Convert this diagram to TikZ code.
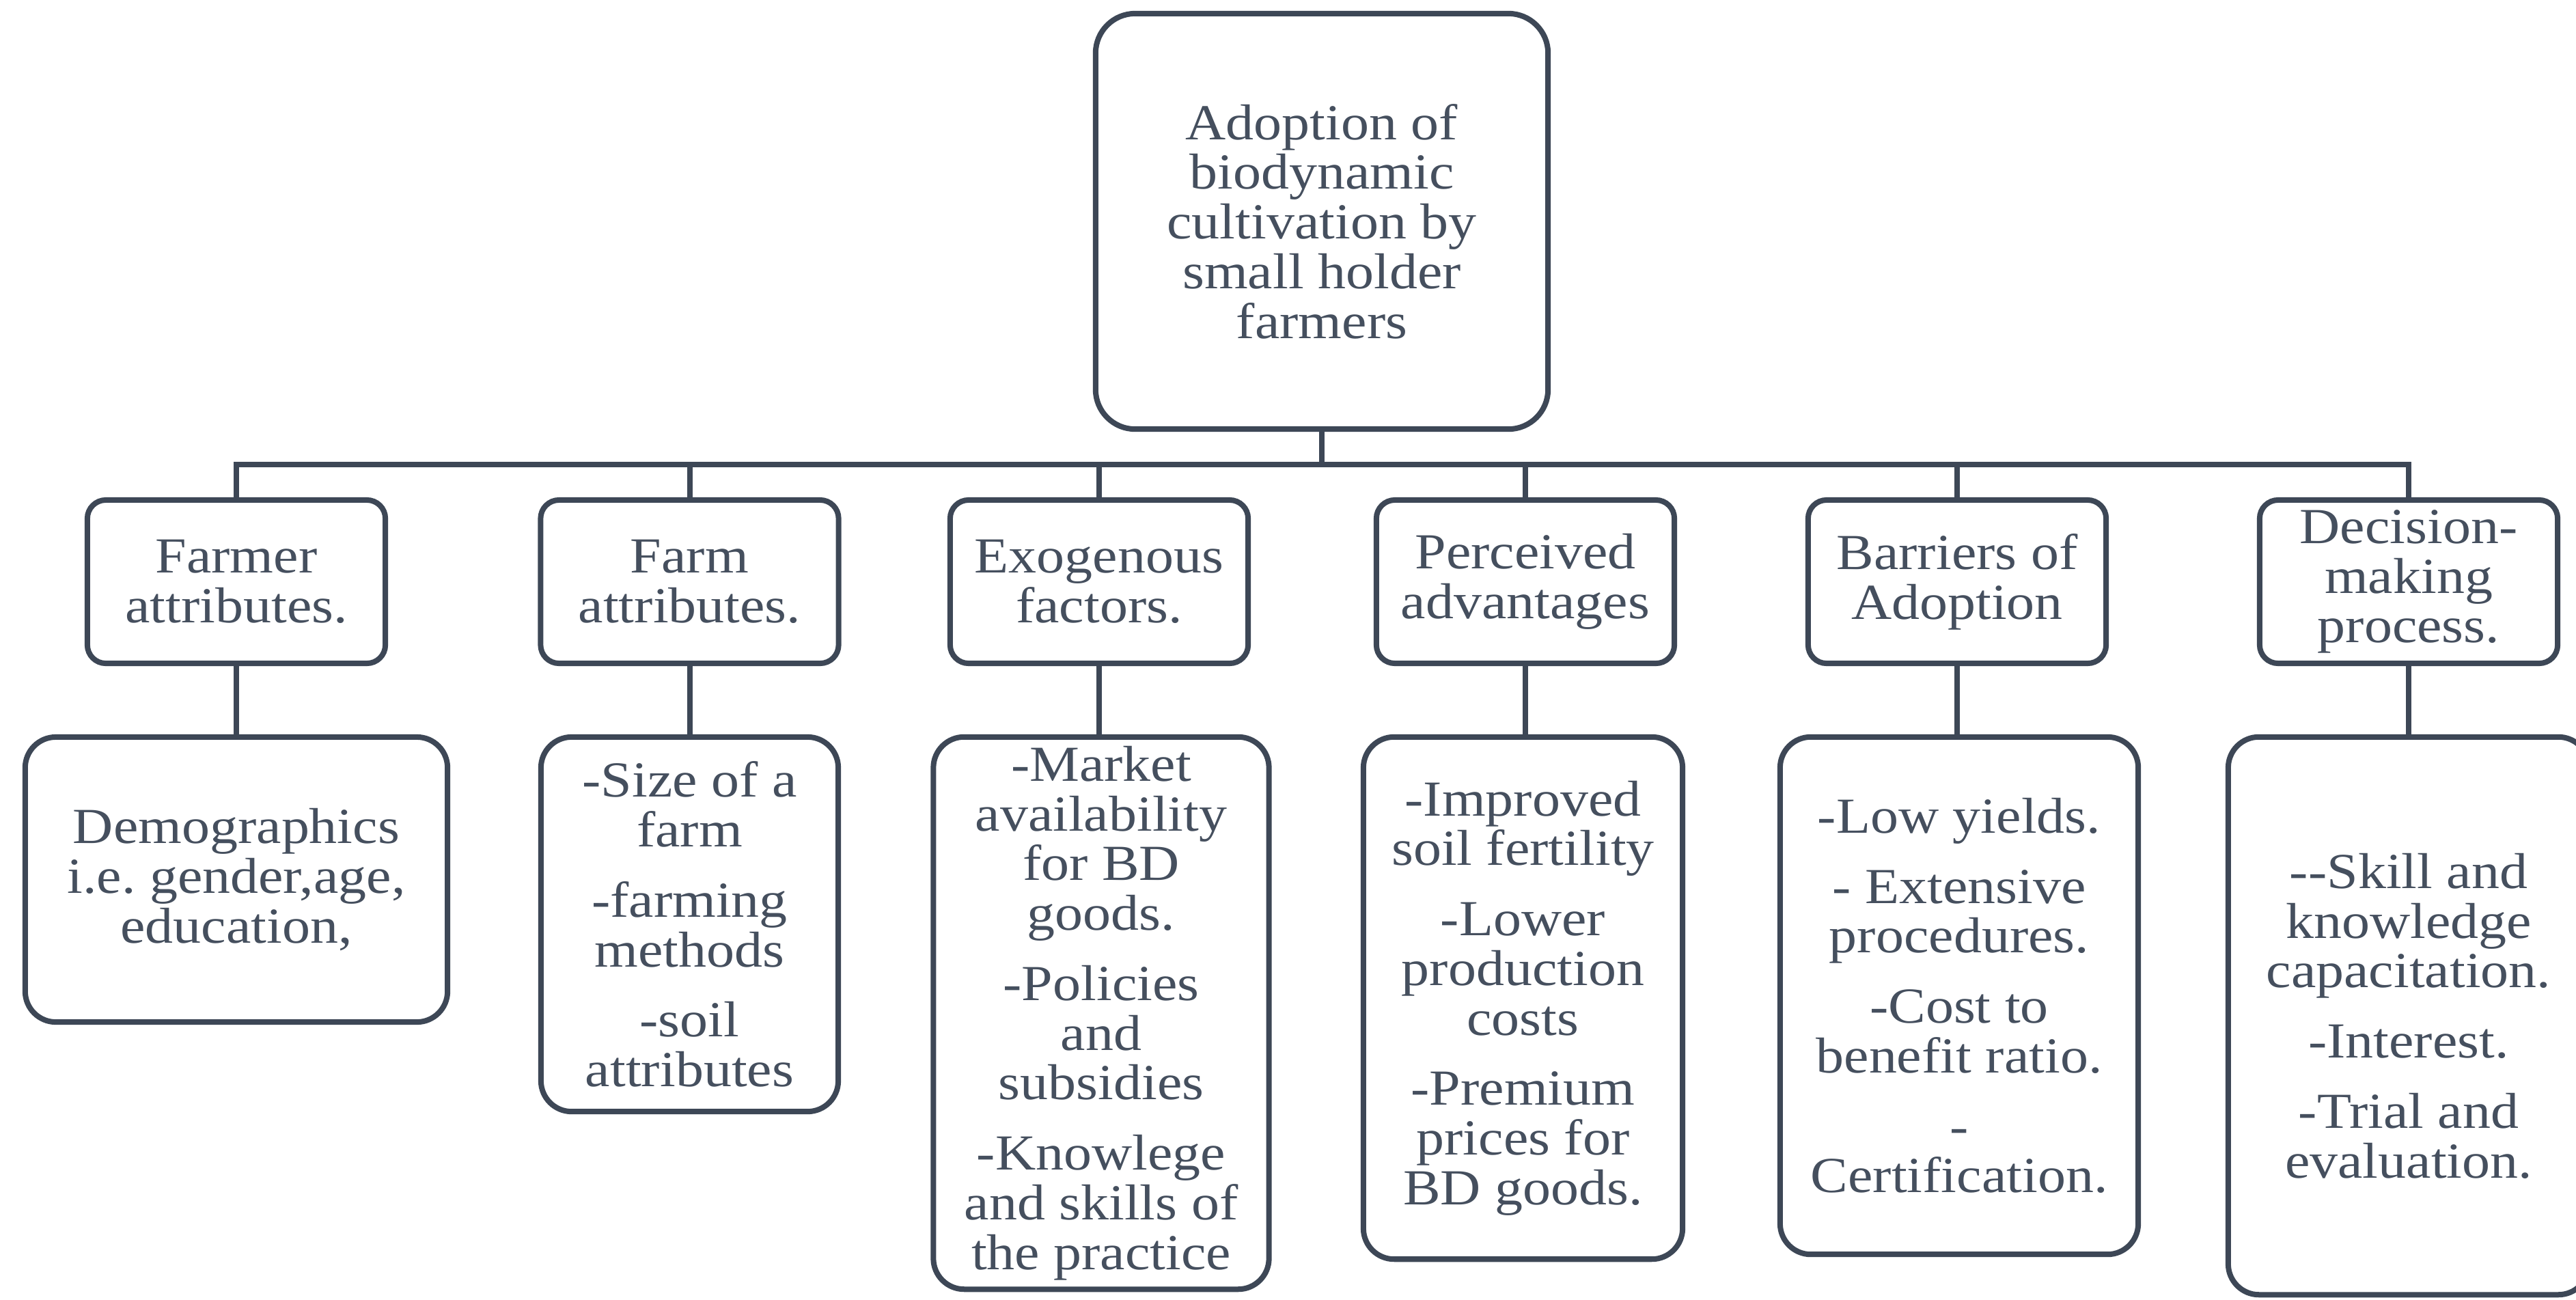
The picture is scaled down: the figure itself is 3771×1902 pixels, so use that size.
\documentclass[tikz,border=0pt]{standalone}
\usepackage{fontspec}
\setmainfont{Liberation Serif}[FakeStretch=1.11]
\definecolor{lineC}{HTML}{3D4756}
\definecolor{textC}{HTML}{454F5E}
\newcommand\itemgap{\\[8.5pt]}
\begin{document}
\begin{tikzpicture}[x=0.01cm,y=0.01cm,
  box/.style={draw=lineC,line width=0.08cm,fill=white,text=textC,align=center,inner sep=0pt,
    font=\fontsize{21pt}{20.7pt}\selectfont},
  rootbox/.style={box,rounded corners=0.58cm,minimum width=6.62cm,minimum height=6.08cm},
  attrbox/.style={box,rounded corners=0.27cm,minimum width=4.36cm,minimum height=2.39cm},
  subbox/.style={box,rounded corners=0.45cm},
  conn/.style={draw=lineC,line width=0.08cm,line join=miter}]
\useasboundingbox (0,0) rectangle (3771,-1902);
\clip (0,0) rectangle (3771,-1902);
\fill[white] (0,0) rectangle (3771,-1902);

\node[rootbox] (root) at (1935,-324) {Adoption of\\biodynamic\\cultivation by\\small holder\\farmers};

\node[attrbox] (fa) at (346,-851.5) {Farmer\\attributes.};
\node[attrbox] (fm) at (1009.5,-851.5) {Farm\\attributes.};
\node[attrbox] (ex) at (1609,-851.5) {Exogenous\\factors.};
\node[attrbox] (pa) at (2233,-851.5) {Perceived\\advantages};
\node[attrbox] (ba) at (2865,-851.5) {Barriers of\\Adoption};
\node[attrbox] (dm) at (3526,-851.5) {Decision-\\making\\process.};

\node[subbox,minimum width=6.18cm,minimum height=4.17cm] (s1) at (346,-1287.5)
  {Demographics\\i.e.\ gender,age,\\education,};
\node[subbox,minimum width=4.35cm,minimum height=5.48cm] (s2) at (1009.5,-1353)
  {-Size of a\\farm\itemgap -farming\\methods\itemgap -soil\\attributes};
\node[subbox,minimum width=4.91cm,minimum height=8.08cm] (s3) at (1612,-1483)
  {-Market\\availability\\for BD\\goods.\itemgap -Policies\\and\\subsidies\itemgap -Knowlege\\and skills of\\the practice};
\node[subbox,minimum width=4.67cm,minimum height=7.64cm] (s4) at (2229.5,-1461)
  {-Improved\\soil fertility\itemgap -Lower\\production\\costs\itemgap -Premium\\prices for\\BD goods.};
\node[subbox,minimum width=5.24cm,minimum height=7.57cm] (s5) at (2868,-1457.5)
  {-Low yields.\itemgap - Extensive\\procedures.\itemgap -Cost to\\benefit ratio.\itemgap -\\Certification.};
\node[subbox,minimum width=5.28cm,minimum height=8.16cm] (s6) at (3526,-1487)
  {-{}-Skill and\\knowledge\\capacitation.\itemgap -Interest.\itemgap -Trial and\\evaluation.};

\coordinate (busL) at (346,-680);
\coordinate (busR) at (3526,-680);
\draw[conn] (fa.north) -- (busL) -- (busR) -- (dm.north);
\draw[conn] (root.south) -- (root.south |- busL);
\foreach \n in {fm,ex,pa,ba} {\draw[conn] (\n.north) -- (\n.north |- busL);}
\draw[conn] (fa.south) -- (s1.north);
\draw[conn] (fm.south) -- (s2.north);
\draw[conn] (ex.south) -- (ex.south |- s3.north);
\draw[conn] (pa.south) -- (pa.south |- s4.north);
\draw[conn] (ba.south) -- (ba.south |- s5.north);
\draw[conn] (dm.south) -- (s6.north);
\end{tikzpicture}
\end{document}
